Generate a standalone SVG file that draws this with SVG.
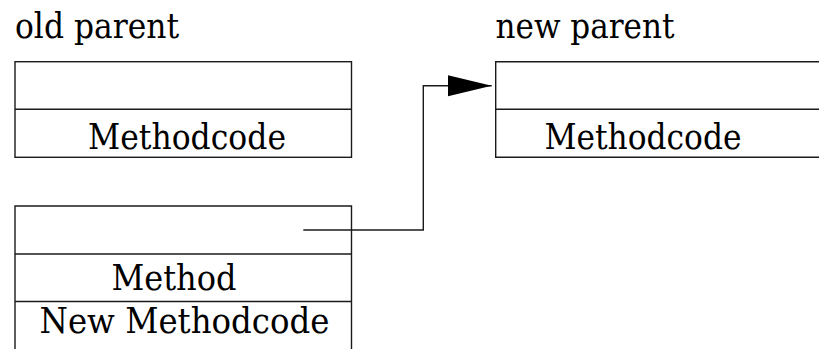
<svg xmlns="http://www.w3.org/2000/svg" width="819" height="349" viewBox="0 0 819 349">
  <style>
    .box { fill: none; stroke: #1a1a1a; stroke-width: 1.4; }
    .sep { stroke: #1a1a1a; stroke-width: 1.4; }
    .lbl { font-family: "DejaVu Serif", serif; font-size: 36px; fill: #000; }
    .wire { fill: none; stroke: #1a1a1a; stroke-width: 1.4; }
  </style>
  <defs>
    <marker id="arrow" markerUnits="userSpaceOnUse" markerWidth="46" markerHeight="24" refX="44" refY="10.5" orient="auto">
      <polygon points="0,0 44,10.5 0,21" fill="#000"/>
    </marker>
  </defs>

  <rect width="819" height="349" fill="#fff"/>

  <!-- old parent class -->
  <g id="old-parent">
    <text class="lbl" x="15" y="38" textLength="164" lengthAdjust="spacingAndGlyphs">old parent</text>
    <rect class="box" x="15" y="61.7" width="336.5" height="95.6"/>
    <line class="sep" x1="15" y1="109.3" x2="351.5" y2="109.3"/>
    <text class="lbl" x="88" y="149.3" textLength="198" lengthAdjust="spacingAndGlyphs">Methodcode</text>
  </g>

  <!-- new parent class (continues past the right edge) -->
  <g id="new-parent">
    <text class="lbl" x="495.5" y="37.5" textLength="179" lengthAdjust="spacingAndGlyphs">new parent</text>
    <path class="box" d="M830,61.7 H495.7 V157.3 H830"/>
    <line class="sep" x1="495.7" y1="109.3" x2="830" y2="109.3"/>
    <text class="lbl" x="544.5" y="149.3" textLength="197" lengthAdjust="spacingAndGlyphs">Methodcode</text>
  </g>

  <!-- child object (continues past the bottom edge) -->
  <g id="child">
    <path class="box" d="M15,360 V206 H351.5 V360"/>
    <line class="sep" x1="15" y1="254" x2="351.5" y2="254"/>
    <line class="sep" x1="15" y1="301.5" x2="351.5" y2="301.5"/>
    <text class="lbl" x="111.5" y="290" textLength="125" lengthAdjust="spacingAndGlyphs">Method</text>
    <text class="lbl" x="39.5" y="332.5" textLength="290" lengthAdjust="spacingAndGlyphs">New Methodcode</text>
  </g>

  <!-- parent pointer -->
  <g id="connectors">
    <path class="wire" d="M303.3,230 H423.3 V85.7 H491.7" marker-end="url(#arrow)"/>
  </g>
</svg>
